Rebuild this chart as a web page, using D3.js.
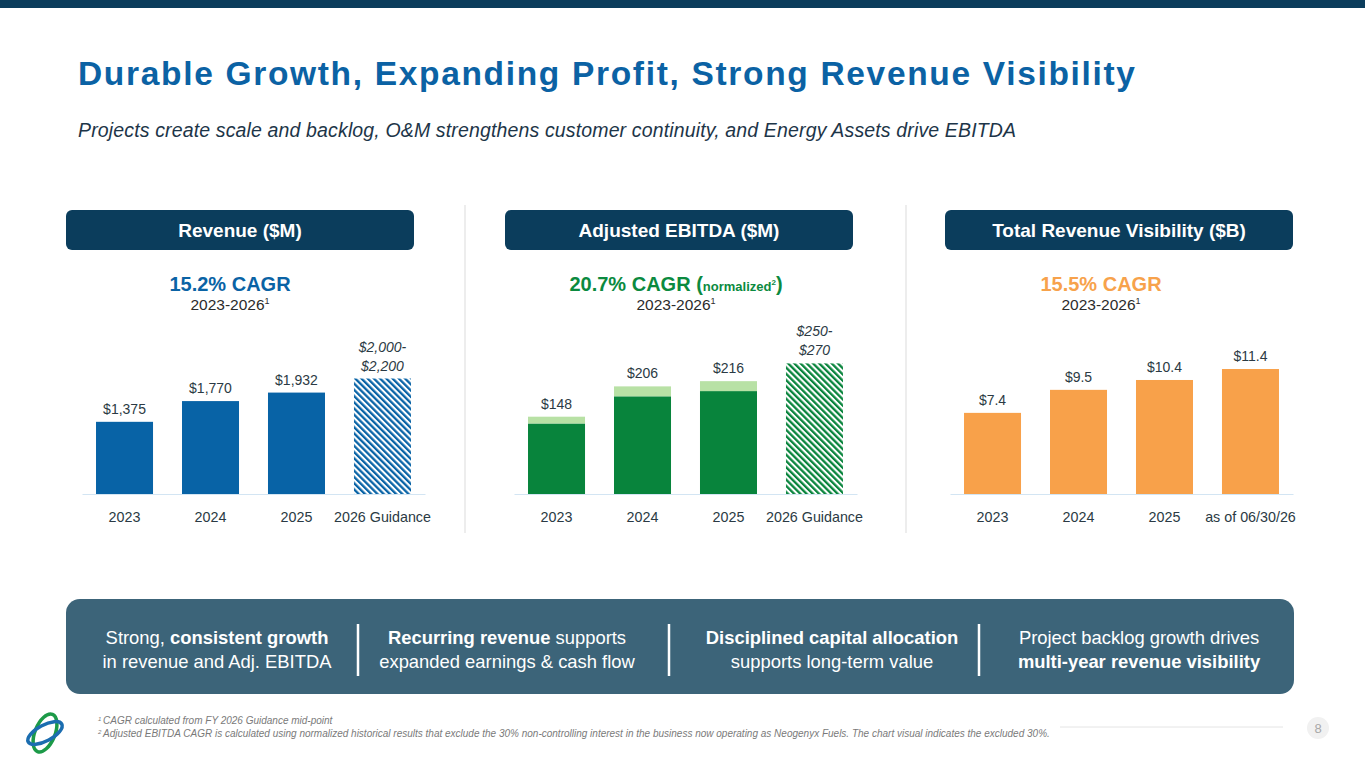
<!DOCTYPE html>
<html>
<head>
<meta charset="utf-8">
<script src="https://cdn.jsdelivr.net/npm/d3@7"></script>
<style>
  body { margin: 0; background: #fff; }
  svg { display: block; font-family: "Liberation Sans", Arial, sans-serif; }
</style>
</head>
<body>
<script>
// data
const revYears = ["2023", "2024", "2025", "2026 Guidance"];
const revValues = [1375, 1770, 1932, 2200];
const revLabels = [["$1,375"], ["$1,770"], ["$1,932"], ["$2,000-", "$2,200"]];

const ebitdaYears = ["2023", "2024", "2025", "2026 Guidance"];
const ebitdaValues = [148, 206, 216, 250];
const ebitdaExcluded = [13, 19, 19, 0];
const ebitdaLabels = [["$148"], ["$206"], ["$216"], ["$250-", "$270"]];

const visYears = ["2023", "2024", "2025", "as of 06/30/26"];
const visValues = [7.4, 9.5, 10.4, 11.4];
const visLabels = [["$7.4"], ["$9.5"], ["$10.4"], ["$11.4"]];

const W = 1365, H = 768;
const base = 494, plotH = 140;

const svg = d3.select("body").append("svg")
  .attr("width", W)
  .attr("height", H);

const defs = svg.append("defs");
function hatch(id, color) {
  const p = defs.append("pattern")
    .attr("id", id)
    .attr("patternUnits", "userSpaceOnUse")
    .attr("width", 4.4).attr("height", 4.4)
    .attr("patternTransform", "rotate(-45)");
  p.append("rect").attr("width", 4.4).attr("height", 4.4).attr("fill", "#fff");
  p.append("rect").attr("width", 2.3).attr("height", 4.4).attr("fill", color);
}
hatch("hatchBlue", "#0863a6");
hatch("hatchGreen", "#08843c");

// top band
svg.append("rect").attr("x", 0).attr("y", 0).attr("width", W).attr("height", 8).attr("fill", "#0b3d5c");

svg.append("text")
  .attr("x", 78).attr("y", 85)
  .attr("textLength", 1057).attr("lengthAdjust", "spacing")
  .attr("fill", "#0b62a4")
  .style("font-size", "33.5px").style("font-weight", "bold")
  .text("Durable Growth, Expanding Profit, Strong Revenue Visibility");

svg.append("text")
  .attr("x", 78).attr("y", 137)
  .attr("textLength", 938).attr("lengthAdjust", "spacing")
  .attr("fill", "#1d3548")
  .style("font-size", "19.5px").style("font-style", "italic")
  .text("Projects create scale and backlog, O&M strengthens customer continuity, and Energy Assets drive EBITDA");

// separators between panels
[465, 906].forEach(x => {
  svg.append("line")
    .attr("x1", x).attr("x2", x).attr("y1", 205).attr("y2", 533)
    .attr("stroke", "#ededed").attr("stroke-width", 2);
});

const charts = [
  {
    header: "Revenue ($M)", hx: 66, x0: 82, cx: 230,
    cagr: "15.2% CAGR", cagrColor: "#0a63a5",
    years: revYears, values: revValues, excluded: null, labels: revLabels,
    max: 2667, color: "#0863a6", pattern: "url(#hatchBlue)"
  },
  {
    header: "Adjusted EBITDA ($M)", hx: 505, x0: 514, cx: 676,
    cagr: "20.7% CAGR (", cagrColor: "#0b8a3f", normalized: true,
    years: ebitdaYears, values: ebitdaValues, excluded: ebitdaExcluded, labels: ebitdaLabels,
    max: 268, color: "#08843c", light: "#b8e1a5", pattern: "url(#hatchGreen)"
  },
  {
    header: "Total Revenue Visibility ($B)", hx: 945, x0: 950, cx: 1101,
    cagr: "15.5% CAGR", cagrColor: "#f7a24b",
    years: visYears, values: visValues, excluded: null, labels: visLabels,
    max: 12.77, color: "#f8a14a", pattern: null
  }
];

charts.forEach(c => {
  const g = svg.append("g");

  g.append("rect")
    .attr("x", c.hx).attr("y", 210).attr("width", 348).attr("height", 40).attr("rx", 6)
    .attr("fill", "#0b3d5c");
  g.append("text")
    .attr("x", c.hx + 174).attr("y", 237)
    .attr("text-anchor", "middle").attr("fill", "#fff")
    .style("font-size", "19px").style("font-weight", "bold")
    .text(c.header);

  const t = g.append("text")
    .attr("x", c.cx).attr("y", 291)
    .attr("text-anchor", "middle").attr("fill", c.cagrColor)
    .style("font-size", "20px").style("font-weight", "bold");
  t.append("tspan").text(c.cagr);
  if (c.normalized) {
    t.append("tspan").style("font-size", "13px").text("normalized");
    t.append("tspan").style("font-size", "8px").attr("dy", -6).text("2");
    t.append("tspan").attr("dy", 6).text(")");
  }

  const s = g.append("text")
    .attr("x", c.cx).attr("y", 310)
    .attr("text-anchor", "middle").attr("fill", "#2b2b2b")
    .style("font-size", "15.5px");
  s.append("tspan").text("2023-2026");
  s.append("tspan").style("font-size", "9px").attr("dy", -6).text("1");

  const x = d3.scaleBand()
    .domain(c.years)
    .range([c.x0, c.x0 + 343])
    .paddingInner(0.337)
    .paddingOuter(0.163);
  const y = d3.scaleLinear()
    .domain([0, c.max])
    .range([base, base - plotH]);

  const last = c.years.length - 1;

  c.years.forEach((yr, i) => {
    const v = c.values[i];
    const isGuide = c.pattern && i === last;
    const ex = c.excluded ? c.excluded[i] : 0;
    g.append("rect")
      .attr("x", x(yr)).attr("width", x.bandwidth())
      .attr("y", y(v - ex)).attr("height", y(0) - y(v - ex))
      .attr("fill", isGuide ? c.pattern : c.color);
    if (ex > 0) {
      g.append("rect")
        .attr("x", x(yr)).attr("width", x.bandwidth())
        .attr("y", y(v)).attr("height", y(v - ex) - y(v))
        .attr("fill", c.light);
    }

    const lines = c.labels[i];
    const lt = g.append("text")
      .attr("text-anchor", "middle").attr("fill", "#2b3a44")
      .style("font-size", "14px")
      .style("font-style", isGuide ? "italic" : "normal");
    lines.forEach((ln, k) => {
      lt.append("tspan")
        .attr("x", x(yr) + x.bandwidth() / 2)
        .attr("y", y(v) - 8 - (lines.length - 1 - k) * 19)
        .text(ln);
    });
  });

  const axis = g.append("g")
    .attr("transform", `translate(0,${base})`)
    .call(d3.axisBottom(x).tickSize(0).tickPadding(18));
  axis.select(".domain").attr("stroke", "#d3e5f3").attr("stroke-width", 1.2);
  axis.selectAll("text")
    .attr("fill", "#2b3a44")
    .style("font-size", "14.3px")
    .style("font-family", "'Liberation Sans', Arial, sans-serif");
});

// bottom message panel
svg.append("rect")
  .attr("x", 66).attr("y", 599).attr("width", 1228).attr("height", 95).attr("rx", 14)
  .attr("fill", "#3c6479");

const msgs = [
  { cx: 217, l1: [["Strong, ", false], ["consistent growth", true]], l2: [["in revenue and Adj. EBITDA", false]] },
  { cx: 507, l1: [["Recurring revenue", true], [" supports", false]], l2: [["expanded earnings & cash flow", false]] },
  { cx: 832, l1: [["Disciplined capital allocation", true]], l2: [["supports long-term value", false]] },
  { cx: 1139, l1: [["Project backlog growth drives", false]], l2: [["multi-year revenue visibility", true]] }
];
msgs.forEach(m => {
  [[m.l1, 644], [m.l2, 668]].forEach(([parts, yy]) => {
    const t = svg.append("text")
      .attr("x", m.cx).attr("y", yy)
      .attr("text-anchor", "middle").attr("fill", "#fff")
      .style("font-size", "18.4px");
    parts.forEach(([txt, b]) => {
      t.append("tspan").style("font-weight", b ? "bold" : "normal").text(txt);
    });
  });
});
[358, 669, 979].forEach(x => {
  svg.append("line")
    .attr("x1", x).attr("x2", x).attr("y1", 624).attr("y2", 676)
    .attr("stroke", "#fff").attr("stroke-width", 2.5);
});

// footnotes
const notes = [
  ["1", "CAGR calculated from FY 2026 Guidance mid-point"],
  ["2", "Adjusted EBITDA CAGR is calculated using normalized historical results that exclude the 30% non-controlling interest in the business now operating as Neogenyx Fuels. The chart visual indicates the excluded 30%."]
];
notes.forEach(([sup, txt], i) => {
  const t = svg.append("text")
    .attr("x", 98).attr("y", 724 + i * 13)
    .attr("fill", "#7a7a7a")
    .style("font-size", "10px").style("font-style", "italic");
  t.append("tspan").style("font-size", "6px").attr("dy", -3).text(sup + " ");
  t.append("tspan").attr("dy", 3).text(txt);
});

svg.append("line")
  .attr("x1", 1060).attr("x2", 1283).attr("y1", 727).attr("y2", 727)
  .attr("stroke", "#e4e4e4").attr("stroke-width", 1);
svg.append("circle").attr("cx", 1318).attr("cy", 728).attr("r", 11).attr("fill", "#f1f1f1");
svg.append("text")
  .attr("x", 1318).attr("y", 733)
  .attr("text-anchor", "middle").attr("fill", "#a8a8a8")
  .style("font-size", "13px").text("8");

// logo
const logo = svg.append("g").attr("transform", "translate(45,733)");
logo.append("ellipse")
  .attr("rx", 10).attr("ry", 20)
  .attr("transform", "rotate(22)")
  .attr("fill", "none").attr("stroke", "#1c9a48").attr("stroke-width", 3.5);
logo.append("ellipse")
  .attr("rx", 19).attr("ry", 8)
  .attr("transform", "rotate(-28)")
  .attr("fill", "none").attr("stroke", "#1b6db0").attr("stroke-width", 3.5);
</script>
</body>
</html>
